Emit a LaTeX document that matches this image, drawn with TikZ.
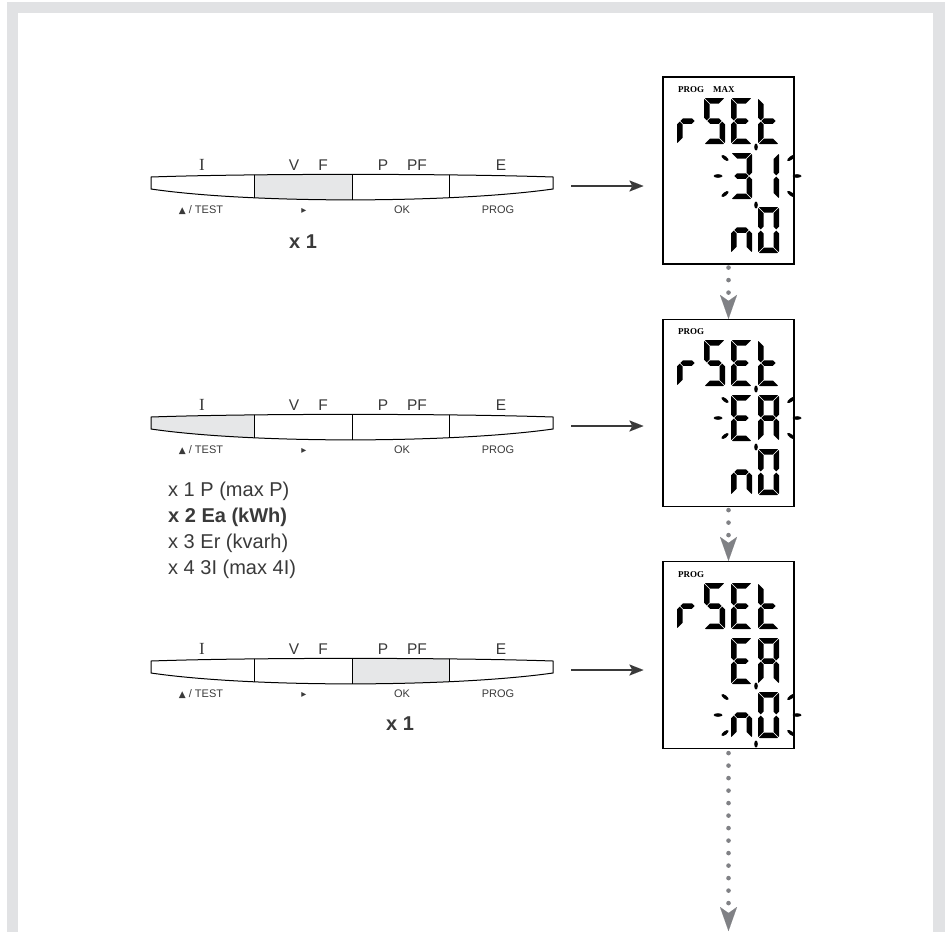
\documentclass[tikz,border=0pt]{standalone}
\usepackage{fontspec}
\setmainfont{Liberation Sans}
\newfontfamily\timesface{Liberation Serif}
\newfontfamily\symbface{DejaVu Sans}
\usetikzlibrary{arrows.meta}

\definecolor{framegray}{HTML}{E1E2E4}
\definecolor{keyshade}{HTML}{E6E7E8}
\definecolor{labelgray}{HTML}{3A3A3A}
\definecolor{flowgray}{HTML}{808185}

\tikzset{
  lcd/.style = {fill = black},
  keyline/.style = {draw = black, line width = 1pt},
  keytop/.style = {anchor = base, text = labelgray, inner sep = 0pt, font = \fontsize{15.5}{16}\selectfont},
  keybottom/.style = {anchor = base, text = labelgray, inner sep = 0pt, font = \fontsize{11}{12}\selectfont},
  count/.style = {anchor = base, text = labelgray, inner sep = 0pt, font = \bfseries\fontsize{20}{20}\selectfont},
  choice/.style = {anchor = base west, text = labelgray, inner sep = 0pt, font = \fontsize{20}{20}\selectfont},
  progtext/.style = {anchor = base west, inner sep = 0pt, font = \timesface\bfseries\fontsize{9}{9}\selectfont},
  lcdbox/.style = {draw, line width = 1.2pt, minimum width = 131pt, minimum height = 187pt, inner sep = 0pt},
  press/.style = {draw = labelgray, line width = 2pt, -{Stealth[length = 14pt, width = 11pt, inset = 3pt, line width = 0.01pt]}},
  dotflow/.style = {draw = flowgray, line width = 4.6pt, line cap = round, dash pattern = on 0pt off 12.5pt,
    -{Stealth[length = 24pt, width = 17pt, inset = 6pt, line width = 0.01pt]}}
}

% one LCD segment each, cell 21 x 46
\newcommand\lcdsega{\fill [lcd] (1.6,0) -- (19.4,0) -- (19.9,0.5) -- (14.9,5.5) -- (6.1,5.5) -- (1.1,0.5) -- cycle;}
\newcommand\lcdsegg{\fill [lcd] (3.35,23) -- (6.1,20.25) -- (14.9,20.25) -- (17.65,23) -- (14.9,25.75) -- (6.1,25.75) -- cycle;}
\newcommand\lcdsegd{\fill [lcd] (1.6,46) -- (19.4,46) -- (19.9,45.5) -- (14.9,40.5) -- (6.1,40.5) -- (1.1,45.5) -- cycle;}
\newcommand\lcdsegf{\fill [lcd] (0,1.6) -- (0.5,1.1) -- (5.5,6.1) -- (5.5,19.65) -- (2.75,22.4) -- (0,19.65) -- cycle;}
\newcommand\lcdsegb{\fill [lcd] (21,1.6) -- (20.5,1.1) -- (15.5,6.1) -- (15.5,19.65) -- (18.25,22.4) -- (21,19.65) -- cycle;}
\newcommand\lcdsege{\fill [lcd] (0,44.4) -- (0.5,44.9) -- (5.5,39.9) -- (5.5,26.35) -- (2.75,23.6) -- (0,26.35) -- cycle;}
\newcommand\lcdsegc{\fill [lcd] (21,44.4) -- (20.5,44.9) -- (15.5,39.9) -- (15.5,26.35) -- (18.25,23.6) -- (21,26.35) -- cycle;}
\newcommand\lcdchar[3]{\begin{scope}[shift = {(#1,#2)}]\foreach \s in {#3} {\csname lcdseg\s\endcsname}\end{scope}}
\newcommand\rset{\lcdchar{14}{21}{e,g}\lcdchar{41}{21}{a,f,g,c,d}\lcdchar{68}{21}{a,f,g,e,d}\lcdchar{95}{21}{f,e,g,d}}
% blinking marks round a field
\newcommand\lcdflash[2]{%
  \begin{scope}[shift = {(#1,#2)}]
    \foreach \px/\py/\ang/\len in {-39/0/0/4.5, 40/0/0/4.5, -32/-18/-37/4.3, -32/18/37/4.3, 34/-18/37/4.6, 34/18/-37/4.6, -1/-29/90/3.5, -1/29/90/3.5}
      \fill [lcd, rotate around = {\ang:(\px,\py)}] (\px,\py) ellipse [x radius = \len, y radius = 1.8];
  \end{scope}}

\newcommand\barpath{(151,177) .. controls (250,173.5) and (450,173.5) .. (553,177) -- (553,189) .. controls (450,203.5) and (250,203.5) .. (151,189) -- cycle}
% key bar: #1 row name, #2 row shift, #3 #4 pressed key
\newcommand\keybar[4]{%
  \begin{scope}[shift = {(0,#2)}]
    \begin{scope}
      \clip \barpath;
      \fill [keyshade] (#3,160) rectangle (#4,215);
      \foreach \x in {254,352,449}
        \draw [keyline] (\x,160) -- (\x,215);
    \end{scope}
    \draw [keyline] \barpath;
    \node [keytop, font = \timesface\fontsize{17}{17}\selectfont] (I-#1) at (202,170) {I};
    \node [keytop] (V-#1) at (294,170) {V};
    \node [keytop] (F-#1) at (323,170) {F};
    \node [keytop] (P-#1) at (383,170) {P};
    \node [keytop] (PF-#1) at (417,170) {PF};
    \node [keytop] (E-#1) at (501,170) {E};
    \node [keybottom] (test-#1) at (201,213) {{\symbface\fontsize{9}{9}\selectfont ▲} / TEST};
    \node [keybottom] (right-#1) at (304,213) {{\symbface\fontsize{10}{10}\selectfont ▸}};
    \node [keybottom] (ok-#1) at (402,213) {OK};
    \node [keybottom] (prog-#1) at (498,213) {PROG};
    \coordinate (end-#1) at (553,186);
  \end{scope}}

\begin{document}
\begin{tikzpicture}[x = 1pt, y = -1pt]
\useasboundingbox (0,0) rectangle (949,932);
\fill [framegray] (7,2) rectangle (945,932);
\fill [white] (18,13) rectangle (933,932);

% the three key presses
\keybar{one}{0}{254}{352}
\keybar{two}{240}{151}{254}
\keybar{three}{484}{352}{449}
\node [count] (count-one) at (303,248) {x 1};
\node [count] (count-three) at (400,730) {x 1};
\node [choice] (sel-p) at (168,496) {x 1 P (max P)};
\node [choice, font = \bfseries\fontsize{20}{20}\selectfont] (sel-ea) at (168,522) {x 2 Ea (kWh)};
\node [choice] (sel-er) at (168,548) {x 3 Er (kvarh)};
\node [choice] (sel-i) at (168,574) {x 4 3I (max 4I)};

% displays
\node [lcdbox] (d1) at (728.5,170.5) {};
\node [lcdbox] (d2) at (728.5,413) {};
\node [lcdbox] (d3) at (728.5,655) {};

\begin{scope}[shift = {(663,77)}]
  \node [progtext] (mode-one) at (15,15) {PROG\quad MAX};
  \rset
  \lcdchar{68}{76}{a,b,g,c,d}
  \lcdchar{95}{76}{b,c}
  \lcdchar{68}{130}{e,g,c}
  \lcdchar{95}{130}{a,b,c,d,e,f}
  \lcdflash{94}{99}
\end{scope}
\begin{scope}[shift = {(663,319)}]
  \node [progtext] (mode-two) at (15,15) {PROG};
  \rset
  \lcdchar{68}{76}{a,f,g,e,d}
  \lcdchar{95}{76}{a,b,c,e,f,g}
  \lcdchar{68}{130}{e,g,c}
  \lcdchar{95}{130}{a,b,c,d,e,f}
  \lcdflash{94}{99}
\end{scope}
\begin{scope}[shift = {(663,562)}]
  \node [progtext] (mode-three) at (15,15) {PROG};
  \rset
  \lcdchar{68}{76}{a,f,g,e,d}
  \lcdchar{95}{76}{a,b,c,e,f,g}
  \lcdchar{68}{130}{e,g,c}
  \lcdchar{95}{130}{a,b,c,d,e,f}
  \lcdflash{94}{153}
\end{scope}

% arrows
\draw [press, shorten <= 18pt, shorten >= 19pt] (end-one) -- (d1.west |- end-one);
\draw [press, shorten <= 18pt, shorten >= 19pt] (end-two) -- (d2.west |- end-two);
\draw [press, shorten <= 18pt, shorten >= 19pt] (end-three) -- (d3.west |- end-three);
\coordinate (flow-end) at (728.5,931);
\draw [dotflow, shorten <= 3pt] (d1.south) -- (d2.north);
\draw [dotflow, shorten <= 3pt] (d2.south) -- (d3.north);
\draw [dotflow, shorten <= 4pt] (d3.south) -- (flow-end);
\end{tikzpicture}
\end{document}
